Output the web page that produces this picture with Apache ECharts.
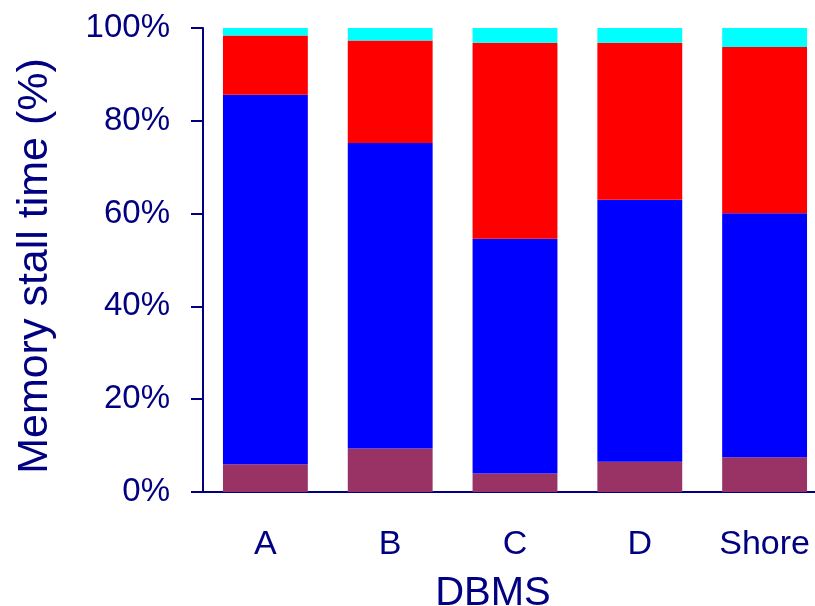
<!DOCTYPE html>
<html>
<head>
<meta charset="utf-8">
<script src="https://cdn.jsdelivr.net/npm/echarts@6/dist/echarts.min.js"></script>
<style>
  html, body { margin: 0; padding: 0; background: #fff; }
  #chart { width: 815px; height: 606px; }
</style>
</head>
<body>
<div id="chart"></div>
<script>
// stall time breakdown per DBMS, in %
var categories = ['A', 'B', 'C', 'D', 'Shore'];
var seg1 = [6.0, 9.4, 4.0, 6.5, 7.5];      // maroon (bottom)
var seg2 = [79.6, 65.8, 50.6, 56.5, 52.6]; // blue
var seg3 = [12.8, 22.1, 42.2, 33.8, 35.8]; // red
var seg4 = [1.6, 2.7, 3.2, 3.2, 4.1];      // cyan (top)
var yTicks = [0, 20, 40, 60, 80, 100];

var navy = '#000080';
var font = 'Liberation Sans, Arial, sans-serif';

var chart = echarts.init(document.getElementById('chart'));

function bar(name, data, color) {
    return {
        name: name,
        type: 'bar',
        stack: 'total',
        barWidth: '68%',
        data: data,
        itemStyle: { color: color },
        animation: false
    };
}

var option = {
    backgroundColor: '#fff',
    grid: {
        left: 203,
        right: -12,
        top: 28,
        bottom: 114,
        containLabel: false,
        outerBoundsMode: 'none'
    },
    xAxis: {
        type: 'category',
        data: categories,
        name: 'DBMS',
        nameLocation: 'middle',
        nameGap: 82,
        nameTextStyle: {
            color: navy,
            fontFamily: font,
            fontSize: 40,
            padding: [0, 44, 0, 0]
        },
        axisLine: { lineStyle: { color: navy, width: 2 } },
        axisTick: { length: 12, lineStyle: { color: navy, width: 2 } },
        axisLabel: {
            color: navy,
            fontFamily: font,
            fontSize: 34,
            margin: 36
        }
    },
    yAxis: {
        type: 'value',
        min: yTicks[0],
        max: yTicks[yTicks.length - 1],
        interval: yTicks[1] - yTicks[0],
        name: 'Memory stall time (%)',
        nameLocation: 'middle',
        nameGap: 146,
        nameTextStyle: {
            color: navy,
            fontFamily: font,
            fontSize: 43,
            padding: [0, 12, 0, 0]
        },
        splitLine: { show: false },
        axisLine: { show: true, lineStyle: { color: navy, width: 2 } },
        axisTick: { show: true, length: 12, lineStyle: { color: navy, width: 2 } },
        axisLabel: {
            color: navy,
            fontFamily: font,
            fontSize: 33,
            margin: 33,
            formatter: '{value}%'
        }
    },
    series: [
        bar('s1', seg1, '#993366'),
        bar('s2', seg2, '#0000FF'),
        bar('s3', seg3, '#FF0000'),
        bar('s4', seg4, '#00FFFF')
    ]
};

chart.setOption(option);
</script>
</body>
</html>
